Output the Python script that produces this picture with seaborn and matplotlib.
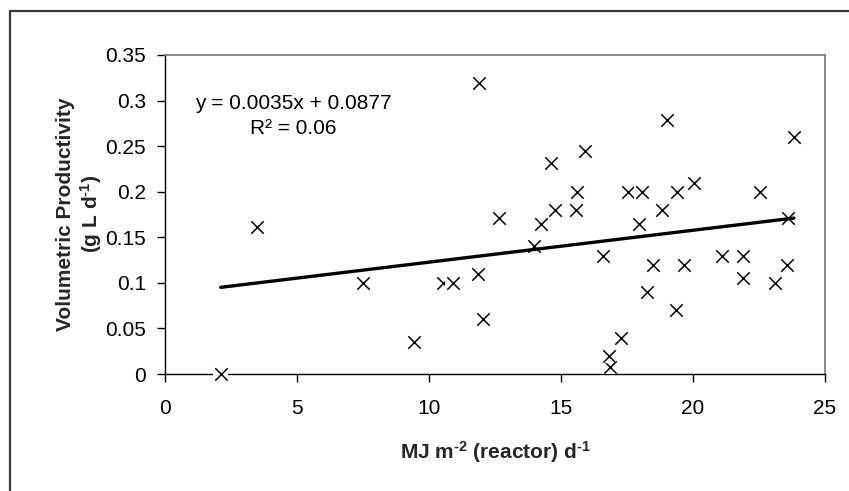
import matplotlib
matplotlib.use("Agg")
import matplotlib.pyplot as plt
import pandas as pd
import seaborn as sns
from matplotlib.lines import Line2D
from matplotlib.ticker import FuncFormatter

# Daily irradiance on the reactor surface vs. volumetric productivity
irradiance = [2.11, 3.48, 7.49, 9.42, 10.52, 10.9, 11.85, 11.91, 12.05, 12.64,
              13.97, 14.25, 14.63, 14.76, 15.55, 15.62, 15.9, 16.59, 16.84, 16.82,
              17.26, 17.54, 17.96, 18.05, 18.26, 18.49, 18.83, 19.03, 19.4, 19.37,
              19.66, 20.04, 21.1, 21.88, 21.88, 22.53, 23.1, 23.55, 23.61, 23.82]
productivity = [0.0, 0.161, 0.1, 0.035, 0.1, 0.1, 0.11, 0.319, 0.06, 0.171,
                0.14, 0.165, 0.231, 0.18, 0.18, 0.2, 0.245, 0.13, 0.008, 0.02,
                0.039, 0.2, 0.165, 0.2, 0.09, 0.12, 0.18, 0.279, 0.2, 0.07,
                0.12, 0.21, 0.13, 0.13, 0.105, 0.2, 0.1, 0.12, 0.171, 0.26]

# Linear trendline
slope = 0.0035
intercept = 0.0877
r_squared = 0.06

x_ticks = [0, 5, 10, 15, 20, 25]
y_ticks = [0, 0.05, 0.1, 0.15, 0.2, 0.25, 0.3, 0.35]

sns.set_theme(style="white")
plt.rcParams["font.family"] = ["Liberation Sans", "DejaVu Sans"]
plt.rcParams["mathtext.fontset"] = "custom"
plt.rcParams["mathtext.rm"] = "Liberation Sans"
plt.rcParams["mathtext.it"] = "Liberation Sans:italic"
plt.rcParams["mathtext.bf"] = "Liberation Sans:bold"

W, H = 849, 491
fig = plt.figure(figsize=(W / 100, H / 100), dpi=100)
fig.patch.set_facecolor("white")

left, right, top, bottom = 165, 825, 55, 374
ax = fig.add_axes([left / W, 1 - bottom / H, (right - left) / W, (bottom - top) / H])
ax.set_facecolor("white")

df = pd.DataFrame({"irradiance": irradiance, "productivity": productivity})

# each cross sits on a small white backing square, drawn point by point
for i in range(len(df)):
    row = df.iloc[[i]]
    z = 3 + 0.01 * i
    sns.scatterplot(data=row, x="irradiance", y="productivity", marker="s", s=115,
                    color="white", edgecolor="none", linewidth=0, zorder=z,
                    clip_on=False, legend=False, ax=ax)
    sns.scatterplot(data=row, x="irradiance", y="productivity", marker="x", s=80,
                    color="black", linewidth=1.1, zorder=z + 0.005,
                    clip_on=False, legend=False, ax=ax)

# trendline across the data range
x_fit = [min(irradiance), max(irradiance)]
fit = pd.DataFrame({"irradiance": x_fit,
                    "productivity": [slope * v + intercept for v in x_fit]})
sns.lineplot(data=fit, x="irradiance", y="productivity", color="black",
             linewidth=2.4, zorder=10, ax=ax)

ax.text(4.87, 0.2836,
        f"y = {slope:.4f}x + {intercept:.4f}\nR\u00b2 = {r_squared:.2f}",
        ha="center", va="center", multialignment="center", fontsize=15,
        linespacing=1.4, color="black", zorder=11)

ax.set_xlim(0, 25)
ax.set_ylim(0, 0.35)
ax.set_xticks(x_ticks)
ax.set_yticks(y_ticks)
ax.yaxis.set_major_formatter(FuncFormatter(lambda v, _: f"{v:g}"))
ax.xaxis.set_major_formatter(FuncFormatter(lambda v, _: f"{v:g}"))

for side in ("left", "bottom"):
    ax.spines[side].set_color("black")
    ax.spines[side].set_linewidth(1.0)
for side in ("top", "right"):
    ax.spines[side].set_color("#808080")
    ax.spines[side].set_linewidth(1.3)

ax.tick_params(axis="both", which="major", direction="out", length=6, width=1,
               color="black", labelsize=15, labelcolor="black")
ax.tick_params(axis="x", bottom=True, top=False, pad=12)
ax.tick_params(axis="y", left=True, right=False, pad=7.5)

# short hyphen in the unit exponents
hy = "\u2010"
ax.set_xlabel(f"MJ m$^{{\\mathbf{{{hy}2}}}}$ (reactor) d$^{{\\mathbf{{{hy}1}}}}$",
              fontsize=15, fontweight="bold", va="center")
ax.xaxis.set_label_coords(0.5, (bottom - 452) / (bottom - top))
ax.set_ylabel(f"Volumetric Productivity\n(g L d$^{{\\mathbf{{{hy}1}}}}$)",
              fontsize=15, fontweight="bold", va="center", linespacing=1.15)
ax.yaxis.set_label_coords((80 - left) / (right - left), (bottom - 214) / (bottom - top))

# outer chart frame (left and top edges)
frame_kw = dict(color="#3a3a3a", linewidth=1.6, transform=fig.transFigure)
fig.add_artist(Line2D([10 / W, 10 / W], [0, 1 - 11 / H], **frame_kw))
fig.add_artist(Line2D([10 / W, 1], [1 - 11 / H, 1 - 11 / H], **frame_kw))

fig.savefig("out.png", dpi=100, facecolor="white")
